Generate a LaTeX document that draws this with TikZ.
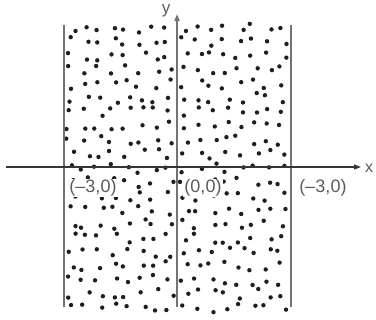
\documentclass[tikz,border=0pt]{standalone}
\usepackage{fontspec}
\setmainfont{Liberation Sans}
\usepackage{tikz}
\usetikzlibrary{arrows.meta}
\definecolor{ink}{RGB}{30,30,30}
\definecolor{rule}{RGB}{115,115,115}

\begin{document}
\begin{tikzpicture}[x=1pt, y=-1pt,
  dot/.style={fill=ink, draw=none},
  bound/.style={draw=rule, line width=1.8pt},
  axis/.style={draw=ink!90, line width=1.2pt, -{Triangle[length=7pt, width=5pt]}},
  lbl/.style={font=\fontsize{18}{20}\selectfont, text=rule!80!black, inner sep=1pt, fill=white},
]
  \useasboundingbox (0,0) rectangle (376,320);
  \pgfmathsetseed{4217}
  % scattered points in both strips
  \foreach \s in {64,177} {
    \foreach \i in {0,...,7} {
      \foreach \j in {0,...,20} {
        \pgfmathsetmacro{\px}{\s + 7 + 14*\i + 5*rand}
        \pgfmathsetmacro{\py}{28 + 14*\j + 5*rand}
        \fill[dot] (\px,\py) circle (2.2pt);
      }
    }
  }

  \coordinate (lt) at (64,25);
  \coordinate (lb) at (64,307);
  \coordinate (rt) at (291,25);
  \coordinate (rb) at (291,307);
  \coordinate (yb) at (177,307);
  \coordinate (yt) at (177,14);
  \coordinate (xs) at (6,167);
  \coordinate (xe) at (361,167);

  \draw[bound] (lt) -- (lb);
  \draw[bound] (rt) -- (rb);
  \draw[bound, -{Triangle[length=7pt, width=5pt]}] (yb) -- (yt);
  \draw[axis] (xs) -- (xe);

  \node[font=\fontsize{17}{19}\selectfont, text=rule!80!black, inner sep=0pt] (ylab) at (166,11) {y};
  \node[font=\fontsize{16}{18}\selectfont, text=rule!80!black, inner sep=0pt, anchor=west] (xlab) at (365,168) {x};
  \node[lbl] (left) at (93,188) {(–3,0)};
  \node[lbl] (origin) at (203,188) {(0,0)};
  \node[lbl] (right) at (323,188) {(–3,0)};
\end{tikzpicture}
\end{document}
